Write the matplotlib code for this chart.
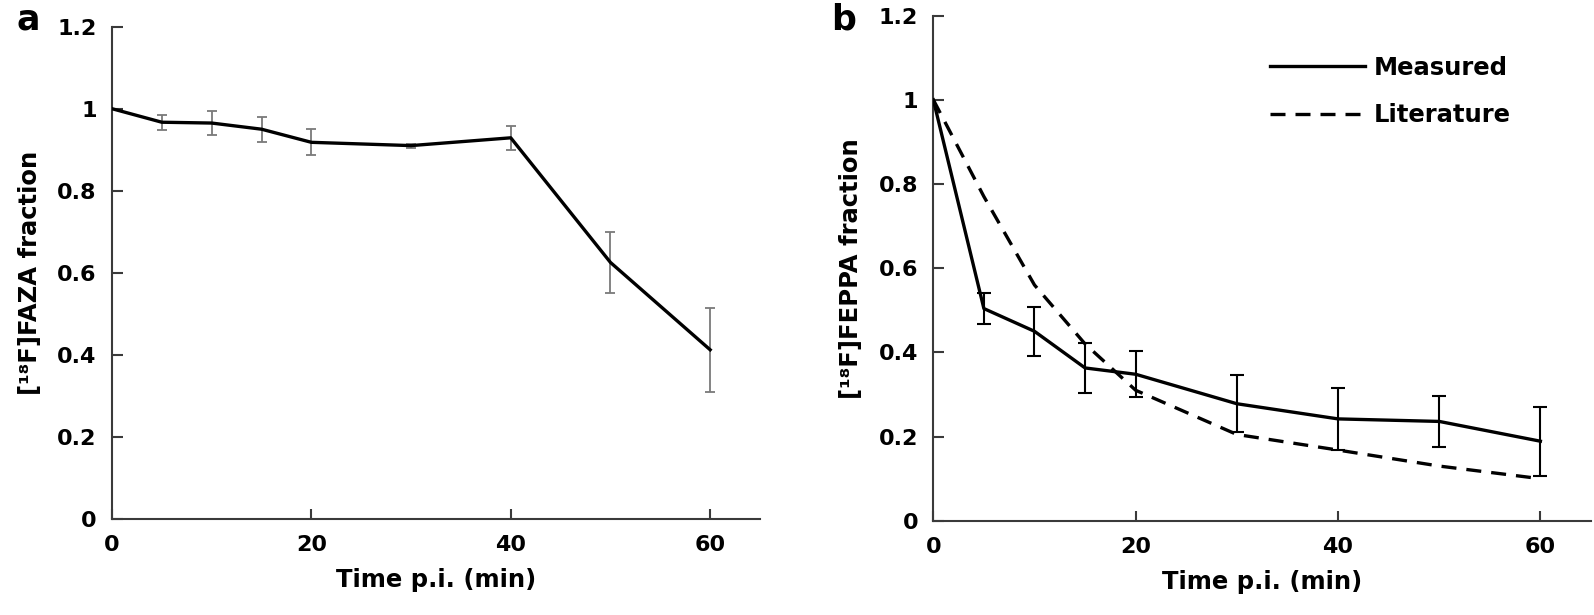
import matplotlib
matplotlib.use('Agg')
import matplotlib.pyplot as plt

# data
time = [0, 5, 10, 15, 20, 30, 40, 50, 60]
faza = [1.0, 0.967, 0.965, 0.950, 0.918, 0.910, 0.929, 0.625, 0.412]
faza_err = [0, 0.018, 0.030, 0.030, 0.032, 0.005, 0.030, 0.075, 0.103]
feppa = [1.0, 0.504, 0.450, 0.363, 0.348, 0.278, 0.242, 0.236, 0.189]
feppa_err = [0, 0.036, 0.058, 0.059, 0.055, 0.068, 0.073, 0.060, 0.082]
literature = [1.0, 0.77, 0.56, 0.42, 0.31, 0.205, 0.168, 0.13, 0.10]
yticks = [0, 0.2, 0.4, 0.6, 0.8, 1.0, 1.2]
yticklabels = ['0', '0.2', '0.4', '0.6', '0.8', '1', '1.2']
xticks = [0, 20, 40, 60]

plt.rcParams['font.family'] = ['DejaVu Sans']
plt.rcParams['font.weight'] = 'bold'

W, H = 1594, 615
fig = plt.figure(figsize=(W / 100, H / 100), dpi=100)


def px_axes(left, right, top, bottom):
    return fig.add_axes([left / W, 1 - bottom / H, (right - left) / W, (bottom - top) / H])


def style(ax, ylabel):
    ax.set_xlim(0, 65)
    ax.set_ylim(0, 1.2)
    ax.set_xticks(xticks)
    ax.set_yticks(yticks)
    ax.set_yticklabels(yticklabels)
    for s in ['top', 'right']:
        ax.spines[s].set_visible(False)
    for s in ['left', 'bottom']:
        ax.spines[s].set_linewidth(1.5)
        ax.spines[s].set_color('#3a3a3a')
    ax.tick_params(axis='y', direction='in', length=8, width=1.5, color='#3a3a3a',
                   labelsize=16, pad=11)
    ax.tick_params(axis='x', direction='in', length=7, width=1.5, color='#3a3a3a',
                   labelsize=16, pad=12)
    for lab in ax.get_xticklabels() + ax.get_yticklabels():
        lab.set_fontweight('bold')
    ax.set_xlabel('Time p.i. (min)', fontsize=17.5, fontweight='bold', labelpad=9)
    ax.set_ylabel(ylabel, fontsize=17.5, fontweight='bold', labelpad=11)


# panel a
ax1 = px_axes(112, 760, 26.7, 518.7)
ax1.plot(time, faza, color='black', lw=2.4, zorder=3)
ax1.errorbar(time[1:], faza[1:], yerr=faza_err[1:], fmt='none', ecolor='#7a7a7a',
             elinewidth=1.3, capsize=3.7, capthick=1.3, zorder=2)
style(ax1, '[¹⁸F]FAZA fraction')
fig.text(16 / W, 1 - 30 / H, 'a', fontsize=25, fontweight='bold', ha='left', va='baseline')

# panel b
ax2 = px_axes(933.3, 1591, 15.5, 520.8)
ax2.plot(time, feppa, color='black', lw=2.4, label='Measured', zorder=3)
ax2.plot(time, literature, color='black', lw=2.4, dashes=(4.5, 3), label='Literature', zorder=3)
ax2.errorbar(time[1:], feppa[1:], yerr=feppa_err[1:], fmt='none', ecolor='black',
             elinewidth=1.5, capsize=5, capthick=1.5, zorder=2)
style(ax2, '[¹⁸F]FEPPA fraction')
ax2.legend(loc='upper left', bbox_to_anchor=((1270 - 933.3) / 657.7, (520.8 - 56) / 505.3),
           frameon=False, handlelength=3.9, handletextpad=0.35, labelspacing=0.95,
           borderpad=0, borderaxespad=0, prop={'size': 17.5, 'weight': 'bold'})
fig.text(831 / W, 1 - 29 / H, 'b', fontsize=25, fontweight='bold', ha='left', va='baseline')

fig.savefig('out.png', dpi=100)
